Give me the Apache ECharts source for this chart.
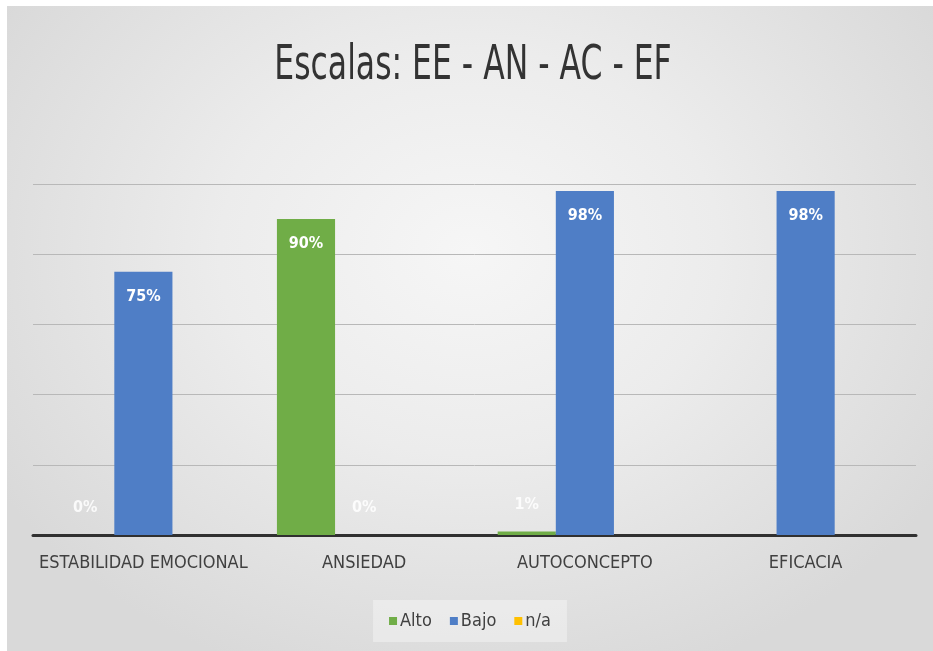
<!DOCTYPE html>
<html>
<head>
<meta charset="utf-8">
<script src="https://cdn.jsdelivr.net/npm/echarts@6/dist/echarts.min.js"></script>
<style>
  html, body { margin: 0; padding: 0; background: #ffffff; width: 933px; height: 651px; overflow: hidden; }
  #chart {
    position: absolute; left: 7px; top: 6px; width: 926px; height: 645px;
    background: radial-gradient(ellipse 60% 70% at 50% 38%, #f6f6f6 0%, #ececec 45%, #d9d9d9 100%);
  }
</style>
</head>
<body>
<div id="chart"></div>
<script>
// Scales and results per level
const categories = ['ESTABILIDAD EMOCIONAL', 'ANSIEDAD', 'AUTOCONCEPTO', 'EFICACIA'];
const seriesNames = ['Alto', 'Bajo', 'n/a'];
const alto = [0, 90, 1, null];
const bajo = [75, 0, 98, 98];
const na = [null, null, null, null];
const colors = ['#70ad47', '#4f7ec6', '#ffc000'];
const titleText = 'Escalas: EE - AN - AC - EF';

const narrow = "'Liberation Sans Narrow', 'DejaVu Sans Condensed', 'Open Sans', sans-serif";

// Short bars get their label above the base, tall bars inside the top
function toData(values) {
  return values.map(v => {
    if (v === null) return null;
    const small = v < 10;
    return {
      value: v,
      label: {
        position: small ? 'top' : 'insideTop',
        distance: small ? 19 : 17,
        color: small ? 'rgba(255,255,255,0.85)' : '#ffffff'
      }
    };
  });
}

const chart = echarts.init(document.getElementById('chart'));
chart.setOption({
  backgroundColor: 'transparent',
  animation: false,
  color: colors,
  // Title drawn as a condensed, tall text element
  graphic: [{
    type: 'text',
    x: 466,
    y: 60,
    scaleX: 0.76,
    scaleY: 1.05,
    style: {
      text: titleText,
      font: "46px " + narrow,
      fill: '#333333',
      align: 'center',
      verticalAlign: 'middle'
    }
  }],
  legend: {
    data: seriesNames,
    bottom: 9,
    left: 'center',
    itemWidth: 8,
    itemHeight: 8,
    itemGap: 18,
    padding: [12, 16],
    backgroundColor: 'rgba(255,255,255,0.35)',
    icon: 'rect',
    textStyle: { fontFamily: narrow, fontSize: 18, color: '#404040', padding: [0, 0, 0, -2] }
  },
  grid: { left: 26, right: 17, top: 178, bottom: 116 },
  xAxis: {
    type: 'category',
    data: categories,
    axisLine: { lineStyle: { color: '#303030', width: 3 } },
    axisTick: { show: false },
    axisLabel: { interval: 0, fontFamily: narrow, fontSize: 18, color: '#404040', margin: 19 }
  },
  yAxis: {
    type: 'value',
    min: 0,
    max: 100,
    interval: 20,
    axisLabel: { show: false },
    axisLine: { show: false },
    axisTick: { show: false },
    splitLine: { lineStyle: { color: '#b8b8b8', width: 1 } }
  },
  series: [alto, bajo, na].map((vals, i) => ({
    name: seriesNames[i],
    type: 'bar',
    data: toData(vals),
    barGap: '0%',
    barCategoryGap: '21%',
    label: {
      show: true,
      formatter: '{c}%',
      fontFamily: narrow,
      fontSize: 16,
      fontWeight: 'bold',
      color: '#ffffff'
    }
  }))
});
</script>
</body>
</html>
